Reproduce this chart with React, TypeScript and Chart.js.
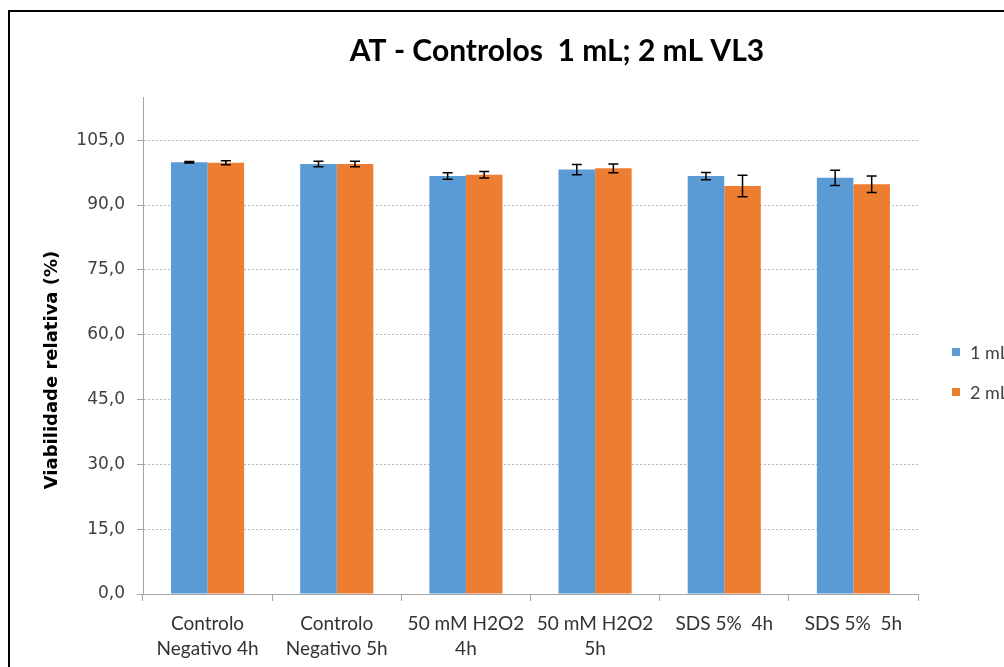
import React, { useEffect, useRef } from "react";
import { Chart, registerables } from "chart.js";

Chart.register(...registerables);

const categories: string[][] = [
  ["Controlo", "Negativo 4h"],
  ["Controlo", "Negativo 5h"],
  ["50 mM H2O2", "4h"],
  ["50 mM H2O2", "5h"],
  ["SDS 5%  4h"],
  ["SDS 5%  5h"],
];
const seriesLabels = ["1 mL", "2 mL"];
const values1mL = [99.9, 99.5, 96.7, 98.2, 96.7, 96.3];
const values2mL = [99.8, 99.5, 97.0, 98.5, 94.4, 94.8];
const errors1mL = [0.15, 0.65, 0.75, 1.2, 0.85, 1.75];
const errors2mL = [0.45, 0.65, 0.75, 1.0, 2.5, 1.9];
const seriesColors = ["#5B9BD5", "#ED7D31"];
const titleText = "AT - Controlos  1 mL; 2 mL VL3";
const yTitle = "Viabilidade relativa (%)";
const yMin = 0;
const yMax = 115;
const yStep = 15;

const narrowFont = "Lato, 'Open Sans', sans-serif";
const wideFont = "'DejaVu Sans', Verdana, sans-serif";

const errorsBySeries = [errors1mL, errors2mL];

const errorBarPlugin = {
  id: "errorBars",
  afterDatasetsDraw(chart: any) {
    const ctx = chart.ctx;
    const yScale = chart.scales.y;
    ctx.save();
    ctx.strokeStyle = "#000";
    ctx.lineWidth = 1.5;
    chart.data.datasets.forEach((ds: any, di: number) => {
      const meta = chart.getDatasetMeta(di);
      const errs = errorsBySeries[di];
      meta.data.forEach((bar: any, i: number) => {
        const v = ds.data[i];
        const e = errs[i];
        const yTop = yScale.getPixelForValue(v + e);
        const yBot = yScale.getPixelForValue(v - e);
        const x = bar.x;
        const cap = 5;
        ctx.beginPath();
        ctx.moveTo(x, yTop);
        ctx.lineTo(x, yBot);
        ctx.moveTo(x - cap, yTop);
        ctx.lineTo(x + cap, yTop);
        ctx.moveTo(x - cap, yBot);
        ctx.lineTo(x + cap, yBot);
        ctx.stroke();
      });
    });
    ctx.restore();
  },
};

const decorPlugin = {
  id: "decor",
  afterDraw(chart: any) {
    const ctx = chart.ctx;
    ctx.save();
    // title
    ctx.fillStyle = "#000";
    ctx.font = "bold 30px " + narrowFont;
    ctx.textAlign = "center";
    ctx.textBaseline = "middle";
    ctx.fillText(titleText, 547, 39);
    // y title
    ctx.save();
    ctx.translate(42, 358);
    ctx.rotate(-Math.PI / 2);
    ctx.font = "bold 18px " + wideFont;
    ctx.fillText(yTitle, 0, 0);
    ctx.restore();
    // legend
    ctx.font = "18px " + narrowFont;
    ctx.textAlign = "left";
    chart.data.datasets.forEach((ds: any, i: number) => {
      const cy = 340 + i * 40;
      ctx.fillStyle = ds.backgroundColor;
      ctx.fillRect(942, cy - 4, 8, 8);
      ctx.fillStyle = "#404040";
      ctx.fillText(ds.label, 960, cy + 1);
    });
    ctx.restore();
  },
};

export default function App() {
  const ref = useRef<HTMLCanvasElement>(null);
  useEffect(() => {
    if (!ref.current) return;
    const chart = new Chart(ref.current, {
      type: "bar",
      data: {
        labels: categories,
        datasets: [
          { label: seriesLabels[0], data: values1mL, backgroundColor: seriesColors[0], categoryPercentage: 0.566, barPercentage: 1 },
          { label: seriesLabels[1], data: values2mL, backgroundColor: seriesColors[1], categoryPercentage: 0.566, barPercentage: 1 },
        ],
      },
      options: {
        animation: false,
        responsive: false,
        devicePixelRatio: 1,
        layout: { padding: { left: 0, top: 85, right: 148, bottom: 0 } },
        plugins: {
          legend: { display: false },
          title: { display: false },
          tooltip: { enabled: false },
        },
        scales: {
          x: {
            grid: {
              display: true,
              drawOnChartArea: false,
              drawTicks: true,
              tickLength: 7,
              tickColor: "#a6a6a6",
              offset: true,
            },
            border: { display: true, color: "#a6a6a6", width: 1 },
            ticks: {
              color: "#333",
              font: { family: narrowFont, size: 19, lineHeight: 1.32 },
              padding: 10,
              maxRotation: 0,
              autoSkip: false,
            },
            afterFit(scale: any) {
              scale.height = 114;
            },
          },
          y: {
            min: yMin,
            max: yMax,
            afterBuildTicks(scale: any) {
              scale.ticks = scale.ticks.filter((t: any) => t.value % yStep === 0);
            },
            grid: {
              color: (c: any) => (c.tick && c.tick.value === 0 ? "rgba(0,0,0,0)" : "#b8b8b8"),
              tickColor: "#a6a6a6",
              tickLength: 6,
              tickBorderDash: [],
            },
            border: { display: true, color: "#a6a6a6", width: 1, dash: [2, 2] },
            ticks: {
              stepSize: yStep,
              color: "#404040",
              padding: 12,
              font: { family: wideFont, size: 17 },
              callback: (v: any) => Number(v).toFixed(1).replace(".", ","),
            },
            title: { display: false },
            afterFit(scale: any) {
              scale.width = 133;
            },
          },
        },
      },
      plugins: [errorBarPlugin, decorPlugin],
    });
    return () => chart.destroy();
  }, []);
  return (
    <div style={{ position: "absolute", left: 0, top: 0, width: 1004, height: 667, overflow: "hidden", background: "#fff" }}>
      <div style={{ position: "absolute", left: 8, top: 10, width: 1060, height: 700, border: "2px solid #000", boxSizing: "border-box", background: "#fff" }}>
        <canvas ref={ref} width={1056} height={696} style={{ display: "block" }} />
      </div>
    </div>
  );
}
